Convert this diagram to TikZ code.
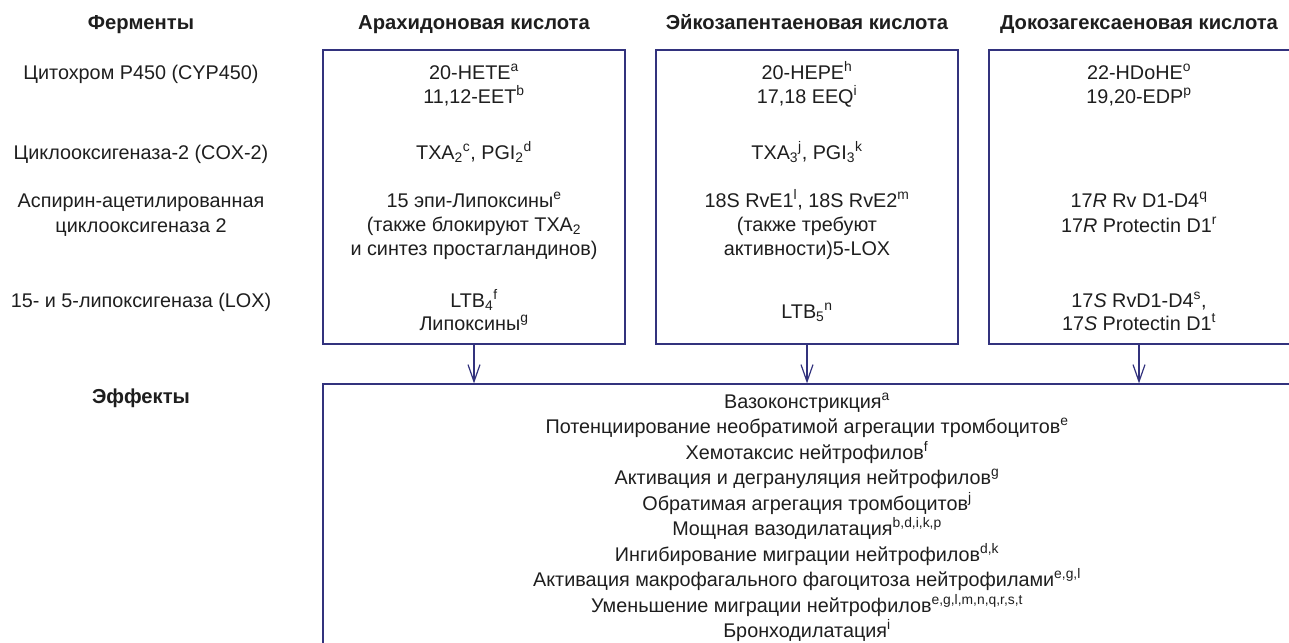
\documentclass[tikz,border=0pt]{standalone}
\usepackage{fontspec}
\setmainfont{Liberation Sans}
\usetikzlibrary{arrows.meta}
\definecolor{navy}{RGB}{50,50,125}
\definecolor{ink}{RGB}{30,30,30}
\begin{document}
\begin{tikzpicture}[x=1pt,y=-1pt,
  txt/.style={anchor=base, inner sep=0pt, text=ink, font=\fontsize{19.8}{22}\selectfont},
  hdr/.style={txt, font=\bfseries\fontsize{20.2}{22}\selectfont},
  frame/.style={draw=navy, line width=1.2pt, inner sep=0pt, fill=none},
  arr/.style={draw=navy, line width=1.2pt, -{Straight Barb[length=17pt,width=12pt]}}]
\useasboundingbox (0,0) rectangle (1289,642);
% headers
\node[hdr] (hF) at (141,30) {Ферменты};
\node[hdr] (hA) at (474,30) {Арахидоновая кислота};
\node[hdr] (hE) at (807,30) {Эйкозапентаеновая кислота};
\node[hdr] (hD) at (1139,30) {Докозагексаеновая кислота};
% enzymes
\node[txt] (e1) at (141,79) {Цитохром P450 (CYP450)};
\node[txt] (e2) at (141,159) {Циклооксигеназа-2 (COX-2)};
\node[txt] (e3a) at (141,207) {Аспирин-ацетилированная};
\node[txt] (e3b) at (141,232) {циклооксигеназа 2};
\node[txt] (e4) at (141,307) {15- и 5-липоксигеназа (LOX)};
\node[hdr] (eff) at (141,403) {Эффекты};
% boxes
\node[frame, minimum width=302pt, minimum height=294pt] (boxA) at (474,197) {};
\node[frame, minimum width=302pt, minimum height=294pt] (boxE) at (807,197) {};
\node[frame, minimum width=302pt, minimum height=294pt] (boxD) at (1140,197) {};
\node[frame, minimum width=968pt, minimum height=280pt] (boxF) at (807,524) {};
% arrows
\draw[arr] (boxA.south) -- (boxA.south |- boxF.north);
\draw[arr] (boxE.south) -- (boxE.south |- boxF.north);
\draw[arr] ([xshift=-1pt]boxD.south) -- ([xshift=-1pt]boxD.south |- boxF.north);
% box A
\node[txt] (a1) at (474,79) {20-HETE\textsuperscript{a}};
\node[txt] (a2) at (474,103) {11,12-EET\textsuperscript{b}};
\node[txt] (a3) at (474,159) {TXA\textsubscript{2}\textsuperscript{c}, PGI\textsubscript{2}\textsuperscript{d}};
\node[txt] (a4) at (474,207) {15 эпи-Липоксины\textsuperscript{e}};
\node[txt] (a5) at (474,231) {(также блокируют TXA\textsubscript{2}};
\node[txt] (a6) at (474,255) {и синтез простагландинов)};
\node[txt] (a7) at (474,307) {LTB\textsubscript{4}\textsuperscript{f}};
\node[txt] (a8) at (474,330) {Липоксины\textsuperscript{g}};
% box E
\node[txt] (b1) at (807,79) {20-HEPE\textsuperscript{h}};
\node[txt] (b2) at (807,103) {17,18 EEQ\textsuperscript{i}};
\node[txt] (b3) at (807,159) {TXA\textsubscript{3}\textsuperscript{j}, PGI\textsubscript{3}\textsuperscript{k}};
\node[txt] (b4) at (807,207) {18S RvE1\textsuperscript{l}, 18S RvE2\textsuperscript{m}};
\node[txt] (b5) at (807,231) {(также требуют};
\node[txt] (b6) at (807,255) {активности)5-LOX};
\node[txt] (b7) at (807,318) {LTB\textsubscript{5}\textsuperscript{n}};
% box D
\node[txt] (d1) at (1139,79) {22-HDoHE\textsuperscript{o}};
\node[txt] (d2) at (1139,103) {19,20-EDP\textsuperscript{p}};
\node[txt] (d3) at (1139,207) {17\textit{R} Rv D1-D4\textsuperscript{q}};
\node[txt] (d4) at (1139,232) {17\textit{R} Protectin D1\textsuperscript{r}};
\node[txt] (d5) at (1139,307) {17\textit{S} RvD1-D4\textsuperscript{s},};
\node[txt] (d6) at (1139,330) {17\textit{S} Protectin D1\textsuperscript{t}};
% effects
\node[txt] (f1) at (807,408) {Вазоконстрикция\textsuperscript{a}};
\node[txt] (f2) at (807,433.5) {Потенциирование необратимой агрегации тромбоцитов\textsuperscript{e}};
\node[txt] (f3) at (807,459) {Хемотаксис нейтрофилов\textsuperscript{f}};
\node[txt] (f4) at (807,484.5) {Активация и дегрануляция нейтрофилов\textsuperscript{g}};
\node[txt] (f5) at (807,510) {Обратимая агрегация тромбоцитов\textsuperscript{j}};
\node[txt] (f6) at (807,535.5) {Мощная вазодилатация\textsuperscript{b,d,i,k,p}};
\node[txt] (f7) at (807,561) {Ингибирование миграции нейтрофилов\textsuperscript{d,k}};
\node[txt] (f8) at (807,586.5) {Активация макрофагального фагоцитоза нейтрофилами\textsuperscript{e,g,l}};
\node[txt] (f9) at (807,612) {Уменьшение миграции нейтрофилов\textsuperscript{e,g,l,m,n,q,r,s,t}};
\node[txt] (f10) at (807,637.5) {Бронходилатация\textsuperscript{i}};
\end{tikzpicture}
\end{document}
